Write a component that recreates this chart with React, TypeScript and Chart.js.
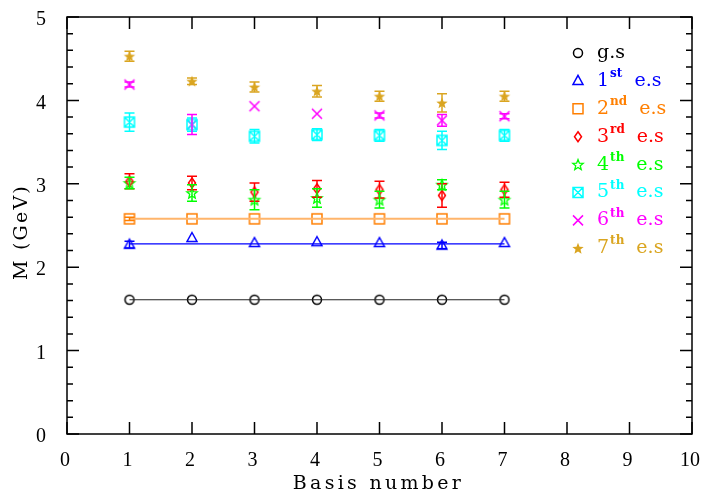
import React, { useEffect, useRef } from 'react';
import { Chart, registerables } from 'chart.js';

Chart.register(...registerables);

// ---------- data ----------
const basis = [1, 2, 3, 4, 5, 6, 7];

const gsMass = [1.61, 1.61, 1.61, 1.61, 1.61, 1.61, 1.61];
const gsErr = [0.0, 0.0, 0.0, 0.0, 0.0, 0.0, 0.0];
const es1Mass = [2.27, 2.35, 2.29, 2.3, 2.29, 2.26, 2.29];
const es1Err = [0.04, 0.0, 0.0, 0.0, 0.0, 0.04, 0.0];
const es2Mass = [2.58, 2.58, 2.58, 2.58, 2.58, 2.58, 2.58];
const es2Err = [0.02, 0.0, 0.0, 0.0, 0.0, 0.0, 0.0];
const es3Mass = [3.03, 3.01, 2.9, 2.94, 2.93, 2.86, 2.93];
const es3Err = [0.09, 0.08, 0.11, 0.1, 0.1, 0.14, 0.09];
const es4Mass = [3.01, 2.89, 2.81, 2.83, 2.81, 2.99, 2.81];
const es4Err = [0.07, 0.1, 0.12, 0.11, 0.1, 0.06, 0.1];
const es5Mass = [3.74, 3.71, 3.57, 3.59, 3.58, 3.52, 3.58];
const es5Err = [0.11, 0.08, 0.08, 0.07, 0.07, 0.11, 0.07];
const es6Mass = [4.19, 3.71, 3.93, 3.84, 3.82, 3.76, 3.81];
const es6Err = [0.03, 0.12, 0.0, 0.0, 0.03, 0.07, 0.03];
const es7Mass = [4.53, 4.23, 4.16, 4.11, 4.05, 3.97, 4.05];
const es7Err = [0.06, 0.04, 0.06, 0.07, 0.06, 0.11, 0.06];

const fitX = [1, 7];
const gsFit = [1.61, 1.61];
const es1Fit = [2.28, 2.28];
const es2Fit = [2.58, 2.58];

const xTickValues = [0, 1, 2, 3, 4, 5, 6, 7, 8, 9, 10];
const yTickValues = [0, 1, 2, 3, 4, 5];
const yMinorStep = 0.2;

const legendMain = ['g.s', '1', '2', '3', '4', '5', '6', '7'];
const legendSup = ['', 'st', 'nd', 'rd', 'th', 'th', 'th', 'th'];
const legendTail = ['', 'e.s', 'e.s', 'e.s', 'e.s', 'e.s', 'e.s', 'e.s'];

const xTitle = 'Basis number';
const yTitle = 'M (GeV)';

// ---------- styles ----------
const colors = ['#000000', '#0000ff', '#ff7f00', '#ff0000', '#00ff00', '#00ffff', '#ff00ff', '#daa520'];
const symbols = ['circle', 'triangle', 'square', 'diamond', 'starOutline', 'boxX', 'cross', 'starFilled'];
const masses = [gsMass, es1Mass, es2Mass, es3Mass, es4Mass, es5Mass, es6Mass, es7Mass];
const errors = [gsErr, es1Err, es2Err, es3Err, es4Err, es5Err, es6Err, es7Err];

function starPath(ctx: CanvasRenderingContext2D, x: number, y: number, ro: number, ri: number) {
  ctx.beginPath();
  for (let i = 0; i < 10; i++) {
    const r = i % 2 === 0 ? ro : ri;
    const a = -Math.PI / 2 + (i * Math.PI) / 5;
    const px = x + r * Math.cos(a);
    const py = y + r * Math.sin(a);
    if (i === 0) ctx.moveTo(px, py);
    else ctx.lineTo(px, py);
  }
  ctx.closePath();
}

function drawSymbol(ctx: CanvasRenderingContext2D, kind: string, x: number, y: number, color: string) {
  ctx.save();
  ctx.strokeStyle = color;
  ctx.fillStyle = color;
  ctx.lineWidth = 1.5;
  ctx.beginPath();
  switch (kind) {
    case 'circle':
      ctx.arc(x, y, 4.5, 0, Math.PI * 2);
      ctx.stroke();
      break;
    case 'triangle':
      ctx.moveTo(x, y - 5.5);
      ctx.lineTo(x + 5, y + 3.5);
      ctx.lineTo(x - 5, y + 3.5);
      ctx.closePath();
      ctx.stroke();
      break;
    case 'square':
      ctx.rect(x - 5, y - 5, 10, 10);
      ctx.stroke();
      break;
    case 'diamond':
      ctx.moveTo(x, y - 5);
      ctx.lineTo(x + 3.5, y);
      ctx.lineTo(x, y + 5);
      ctx.lineTo(x - 3.5, y);
      ctx.closePath();
      ctx.stroke();
      break;
    case 'starOutline':
      ctx.lineWidth = 1.3;
      starPath(ctx, x, y + 0.5, 5.5, 2.4);
      ctx.stroke();
      break;
    case 'boxX':
      ctx.rect(x - 5, y - 5, 10, 10);
      ctx.moveTo(x - 5, y - 5);
      ctx.lineTo(x + 5, y + 5);
      ctx.moveTo(x + 5, y - 5);
      ctx.lineTo(x - 5, y + 5);
      ctx.stroke();
      break;
    case 'cross':
      ctx.moveTo(x - 5, y - 5);
      ctx.lineTo(x + 5, y + 5);
      ctx.moveTo(x + 5, y - 5);
      ctx.lineTo(x - 5, y + 5);
      ctx.stroke();
      break;
    case 'starFilled':
      starPath(ctx, x, y + 0.5, 6, 2.6);
      ctx.fill();
      break;
  }
  ctx.restore();
}

function makeSymbolCanvas(kind: string, color: string): HTMLCanvasElement {
  const c = document.createElement('canvas');
  c.width = 16;
  c.height = 16;
  const cx = c.getContext('2d') as CanvasRenderingContext2D;
  drawSymbol(cx, kind, 8, 8, color);
  return c;
}

const frameFont = '"Liberation Serif", serif';
const textFont = '"DejaVu Serif", serif';

const decorPlugin = {
  id: 'decor',
  afterDatasetsDraw(chart: any) {
    const { ctx, scales } = chart;
    const xs = scales.x;
    const ys = scales.y;
    // error bars
    chart.data.datasets.forEach((ds: any) => {
      if (ds.errIndex === undefined) return;
      const m = masses[ds.errIndex];
      const e = errors[ds.errIndex];
      ctx.save();
      ctx.strokeStyle = colors[ds.errIndex];
      ctx.lineWidth = 1.5;
      basis.forEach((b, i) => {
        if (!e[i]) return;
        const px = xs.getPixelForValue(b);
        const pt = ys.getPixelForValue(m[i] + e[i]);
        const pb = ys.getPixelForValue(m[i] - e[i]);
        ctx.beginPath();
        ctx.moveTo(px, pt);
        ctx.lineTo(px, pb);
        ctx.moveTo(px - 5, pt);
        ctx.lineTo(px + 5, pt);
        ctx.moveTo(px - 5, pb);
        ctx.lineTo(px + 5, pb);
        ctx.stroke();
      });
      ctx.restore();
    });
  },
  afterDraw(chart: any) {
    const { ctx, chartArea, scales } = chart;
    const { left, right, top, bottom } = chartArea;
    const xs = scales.x;
    const ys = scales.y;
    ctx.save();
    ctx.strokeStyle = '#000';
    ctx.lineWidth = 1.5;
    ctx.strokeRect(left, top, right - left, bottom - top);
    ctx.beginPath();
    xTickValues.forEach((v) => {
      const px = xs.getPixelForValue(v);
      ctx.moveTo(px, bottom);
      ctx.lineTo(px, bottom - 12);
      ctx.moveTo(px, top);
      ctx.lineTo(px, top + 12);
    });
    const ymax = yTickValues[yTickValues.length - 1];
    const n = Math.round(ymax / yMinorStep);
    for (let i = 0; i <= n; i++) {
      const v = i * yMinorStep;
      const py = ys.getPixelForValue(v);
      const isMajor = yTickValues.some((t) => Math.abs(t - v) < 1e-6);
      const len = isMajor ? 12 : 6;
      ctx.moveTo(left, py);
      ctx.lineTo(left + len, py);
      ctx.moveTo(right, py);
      ctx.lineTo(right - len, py);
    }
    ctx.stroke();
    ctx.restore();

    // axis titles
    ctx.save();
    ctx.fillStyle = '#000';
    ctx.textAlign = 'center';
    ctx.textBaseline = 'middle';
    ctx.font = `19px ${textFont}`;
    (ctx as any).letterSpacing = '3.3px';
    ctx.fillText(xTitle, (left + right) / 2 - 1, 484);
    ctx.translate(22, 233);
    ctx.rotate(-Math.PI / 2);
    (ctx as any).letterSpacing = '2.2px';
    ctx.fillText(yTitle, 1, 0);
    ctx.restore();

    // legend
    ctx.save();
    ctx.textBaseline = 'middle';
    ctx.textAlign = 'left';
    const symX = 578;
    const textX = 597;
    const y0 = 53;
    const step = 27.9;
    legendMain.forEach((main, i) => {
      const yy = y0 + i * step;
      drawSymbol(ctx, symbols[i], symX, yy, colors[i]);
      ctx.fillStyle = colors[i];
      ctx.font = `19px ${textFont}`;
      ctx.fillText(main, textX, yy);
      let xx = textX + ctx.measureText(main).width + 1;
      if (legendSup[i]) {
        ctx.font = `bold 12px ${textFont}`;
        ctx.fillText(legendSup[i], xx, yy - 7);
        xx += ctx.measureText(legendSup[i]).width + 12;
      }
      if (legendTail[i]) {
        ctx.font = `19px ${textFont}`;
        ctx.fillText(legendTail[i], xx, yy);
      }
    });
    ctx.restore();
  },
};

function noOverflow(s: any) {
  s.paddingTop = 0;
  s.paddingBottom = 0;
  s.paddingLeft = 0;
  s.paddingRight = 0;
}

export default function App() {
  const ref = useRef<HTMLCanvasElement | null>(null);

  useEffect(() => {
    if (!ref.current) return;
    const images = symbols.map((s, i) => makeSymbolCanvas(s, colors[i]));

    const fitSets = [
      { data: gsFit, color: '#222222', width: 1.2 },
      { data: es1Fit, color: '#0000ff', width: 1.2 },
      { data: es2Fit, color: '#ffb56b', width: 2 },
    ].map((f) => ({
      type: 'line' as const,
      data: fitX.map((x, i) => ({ x, y: f.data[i] })),
      borderColor: f.color,
      borderWidth: f.width,
      pointRadius: 0,
      showLine: true,
      fill: false,
    }));

    const pointSets = masses.map((m, k) => ({
      type: 'scatter' as const,
      data: basis.map((b, i) => ({ x: b, y: m[i] })),
      pointStyle: images[k],
      pointRadius: 8,
      showLine: false,
      errIndex: k,
    }));

    const chart = new Chart(ref.current, {
      type: 'scatter',
      data: { datasets: [...fitSets, ...pointSets] as any },
      options: {
        animation: false,
        responsive: false,
        events: [],
        layout: { padding: { top: 17, right: 15, left: 0, bottom: 0 } },
        plugins: {
          legend: { display: false },
          tooltip: { enabled: false },
        },
        scales: {
          x: {
            type: 'linear',
            min: 0,
            max: 10,
            afterBuildTicks: (s: any) => {
              s.ticks = xTickValues.map((v) => ({ value: v }));
            },
            ticks: {
              color: '#000',
              padding: 15,
              font: { family: frameFont, size: 20 },
              labelOffset: -2,
            },
            grid: { display: false, drawTicks: false },
            border: { display: false },
            afterFit: (s: any) => {
              s.height = 60;
              noOverflow(s);
            },
          },
          y: {
            type: 'linear',
            min: 0,
            max: 5,
            afterBuildTicks: (s: any) => {
              s.ticks = yTickValues.map((v) => ({ value: v }));
            },
            ticks: {
              color: '#000',
              padding: 21,
              font: { family: frameFont, size: 20 },
              labelOffset: 3,
            },
            grid: { display: false, drawTicks: false },
            border: { display: false },
            afterFit: (s: any) => {
              s.width = 67;
              noOverflow(s);
            },
          },
        },
      },
      plugins: [decorPlugin],
    });
    return () => chart.destroy();
  }, []);

  return (
    <div style={{ position: 'absolute', left: 0, top: 0, width: 707, height: 494, background: '#fff' }}>
      <canvas ref={ref} width={707} height={494} style={{ display: 'block' }} />
    </div>
  );
}
